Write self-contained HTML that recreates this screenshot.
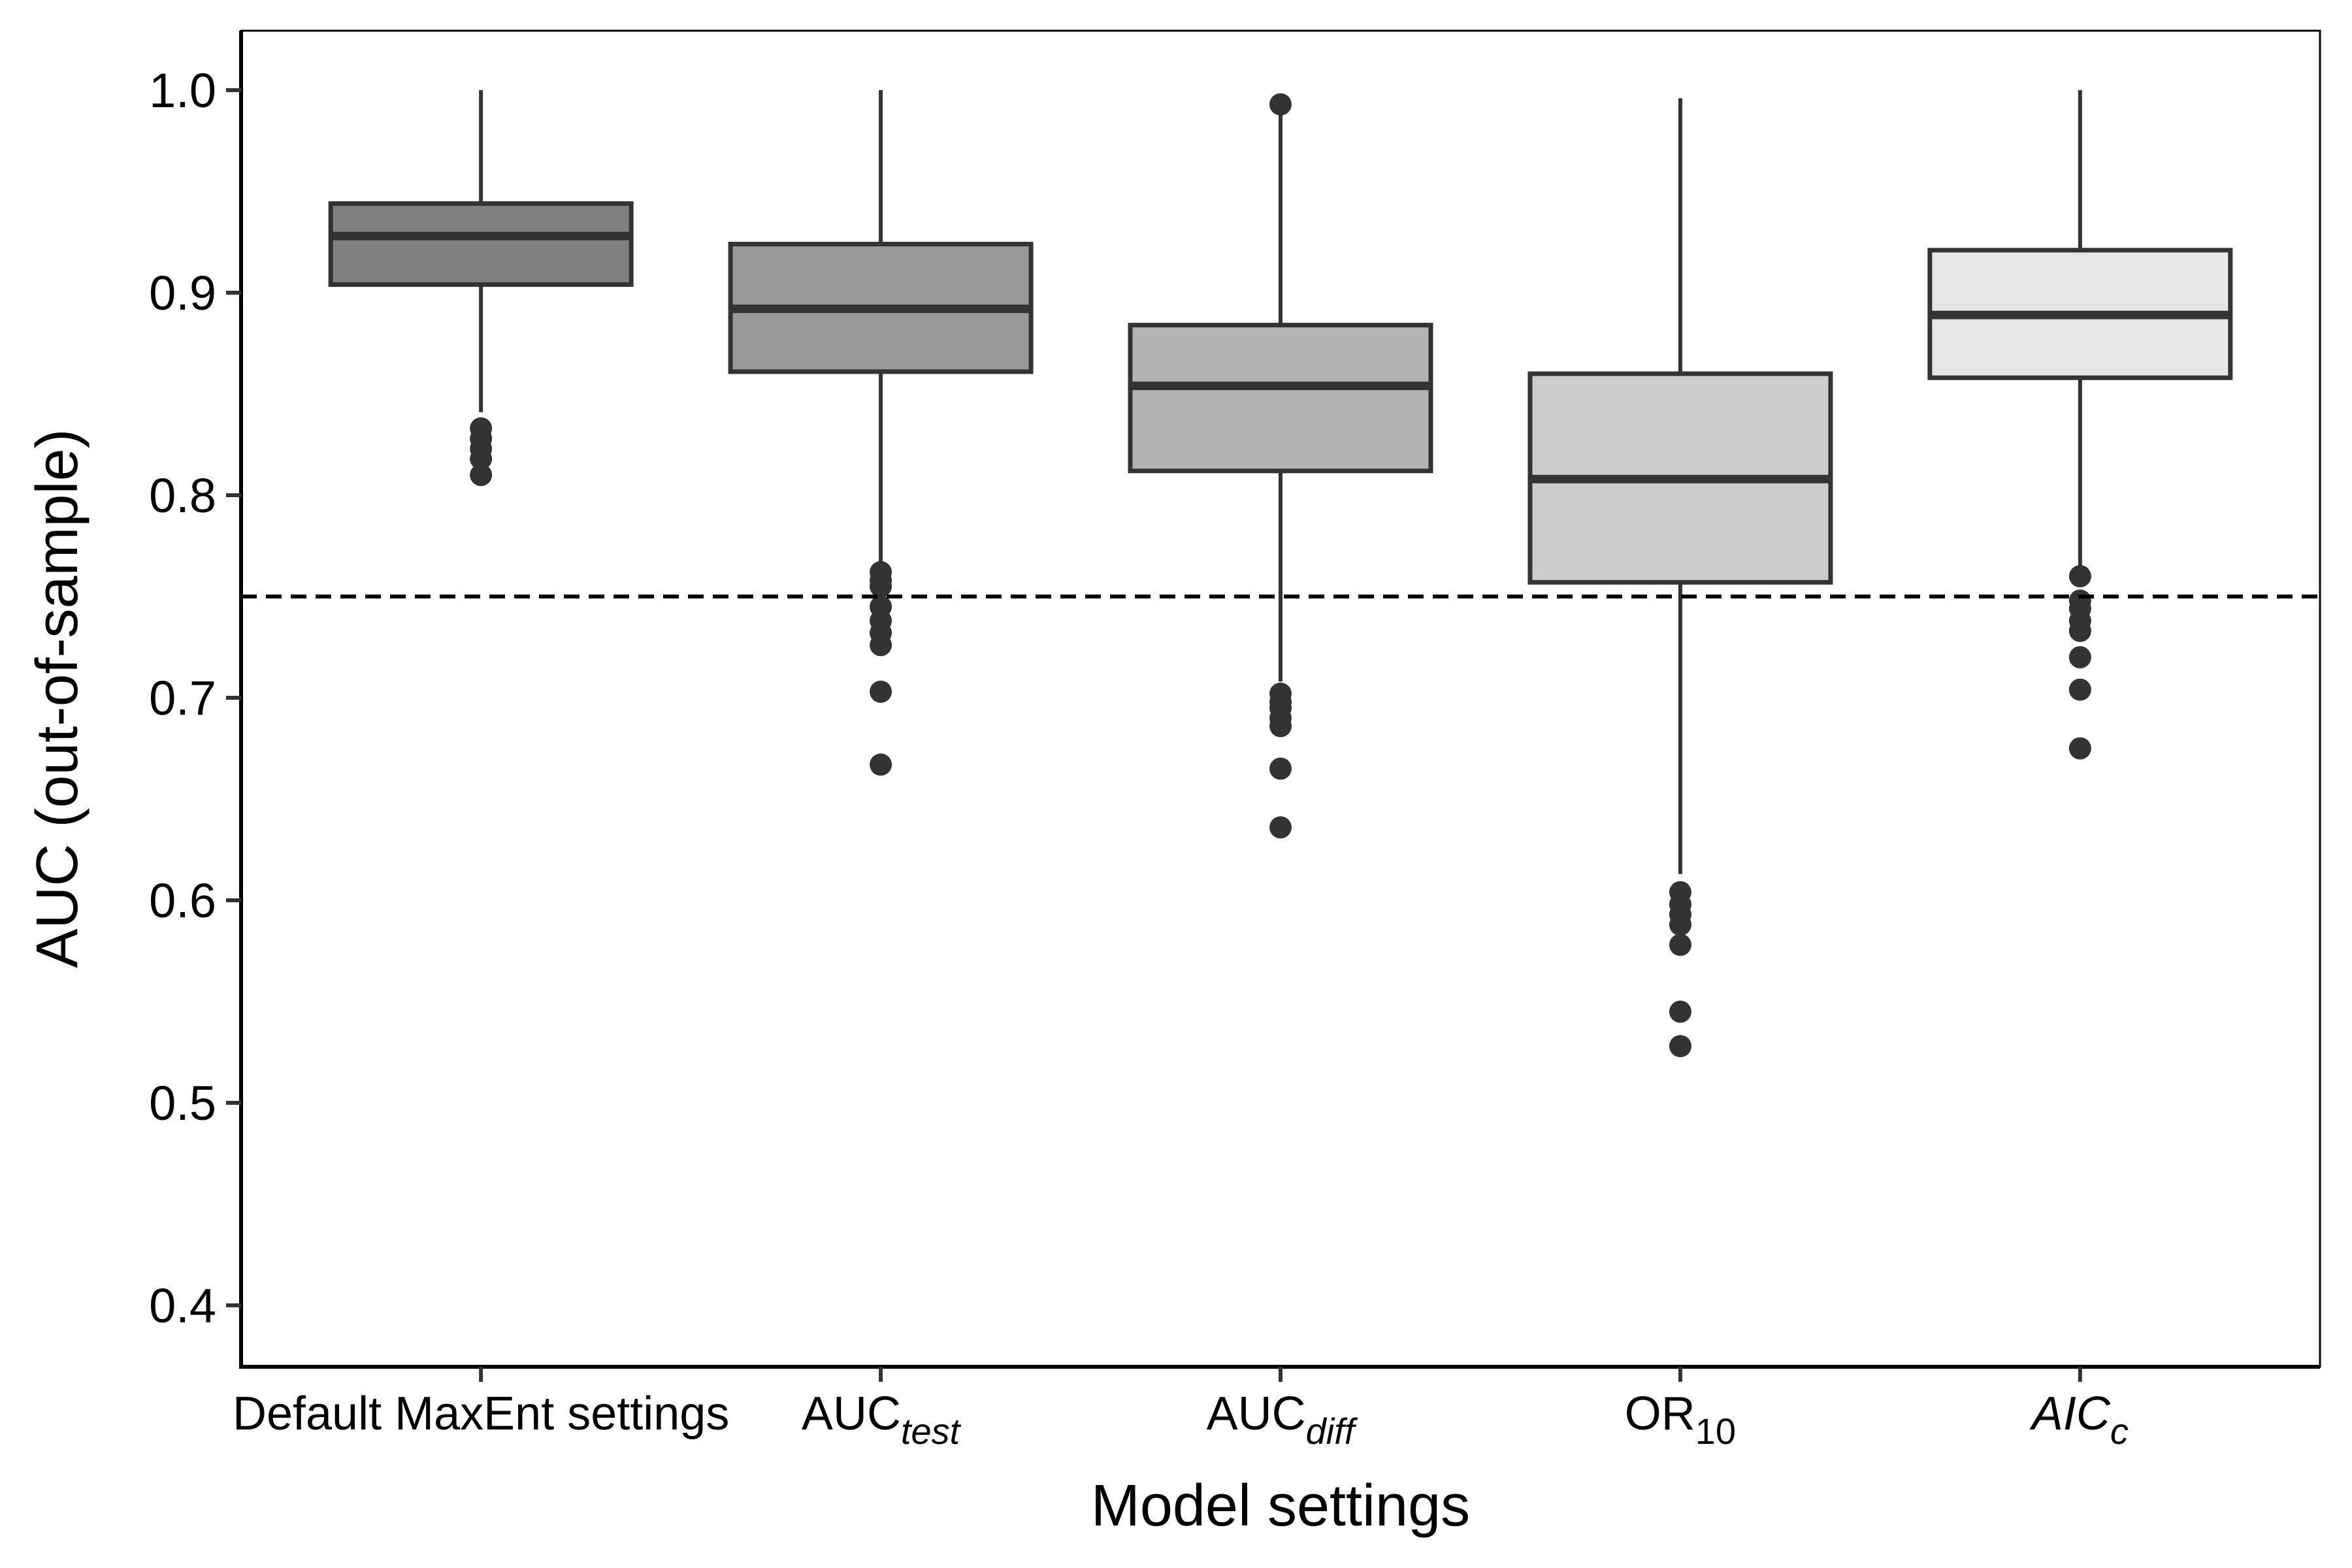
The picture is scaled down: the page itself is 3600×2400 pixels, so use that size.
<!DOCTYPE html>
<html><head><meta charset="utf-8"><style>
body{margin:0;background:#fff}
svg{display:block;font-family:"Liberation Sans",sans-serif}
</style></head><body>
<svg id="chart" width="3600" height="2400" viewBox="0 0 3600 2400" xmlns="http://www.w3.org/2000/svg">
<g id="plot"></g>
<text x="1960" y="2335" font-size="90" text-anchor="middle">Model settings</text>
<text transform="translate(118,1069) rotate(-90)" font-size="90" text-anchor="middle">AUC (out-of-sample)</text>
</svg>
<script>
const categories=["Default MaxEnt settings","AUCtest","AUCdiff","OR10","AICc"];
const q1=[0.904,0.861,0.812,0.757,0.858];
const med=[0.928,0.892,0.854,0.808,0.889];
const q3=[0.944,0.924,0.884,0.860,0.921];
const whiskLo=[0.841,0.765,0.708,0.613,0.765];
const whiskHi=[1.0,1.0,0.988,0.996,1.0];
const outliers=[[0.833,0.828,0.823,0.818,0.810],[0.762,0.758,0.755,0.745,0.738,0.732,0.726,0.703,0.667],[0.993,0.702,0.698,0.695,0.690,0.686,0.665,0.636],[0.604,0.598,0.593,0.588,0.578,0.545,0.528],[0.760,0.748,0.744,0.738,0.733,0.720,0.704,0.675]];
const fills=["#808080","#999999","#b3b3b3","#cccccc","#e6e6e6"];
const yTicks=[0.4,0.5,0.6,0.7,0.8,0.9,1.0];
const yTickLabels=["0.4","0.5","0.6","0.7","0.8","0.9","1.0"];
const refLine=0.75;

const NS="http://www.w3.org/2000/svg";
const L=369,R=3551,T=47,B=2092;
const y=v=>138+(1.0-v)*3100;
const step=(R-L)/5.2;
const x=i=>L+(i+0.6)*step;
const hw=230;
const g=document.getElementById('plot');
function mk(tag,a){const e=document.createElementNS(NS,tag);for(const k in a)e.setAttribute(k,a[k]);g.appendChild(e);return e;}

for(let i=0;i<categories.length;i++){
  const cx=x(i);
  let e=mk('line',{x1:cx,x2:cx,y1:y(whiskHi[i]),y2:y(q3[i]),stroke:'#333',"stroke-width":6});
  
  
  e=mk('line',{x1:cx,x2:cx,y1:y(q1[i]),y2:y(whiskLo[i]),stroke:'#333',"stroke-width":6});
  
  
  e=mk('rect',{x:cx-hw,y:y(q3[i]),width:2*hw,height:y(q1[i])-y(q3[i]),fill:fills[i],stroke:'#333',"stroke-width":7});
  
  
  e=mk('line',{x1:cx-hw,x2:cx+hw,y1:y(med[i]),y2:y(med[i]),stroke:'#333',"stroke-width":13});
  
  
  for(const o of outliers[i]){
    e=mk('circle',{cx:cx,cy:y(o),r:17,fill:'#333'});
    
    
  }
}
let d=mk('line',{x1:L,x2:R,y1:y(refLine),y2:y(refLine),stroke:'#000',"stroke-width":6,"stroke-dasharray":"24 14"});


let pb=mk('rect',{x:L,y:T,width:R-L,height:B-T,fill:'none',stroke:'#000',"stroke-width":3});


let ax=mk('line',{x1:L,x2:L,y1:T,y2:B+3,stroke:'#000',"stroke-width":6});


ax=mk('line',{x1:L-3,x2:R,y1:B,y2:B,stroke:'#000',"stroke-width":6});


for(let k=0;k<yTicks.length;k++){
  const yy=y(yTicks[k]);
  let t=mk('line',{x1:L-23,x2:L,y1:yy,y2:yy,stroke:'#333',"stroke-width":6});
  
  
  t=mk('text',{x:L-38,y:yy+26,"font-size":74,"text-anchor":"end",fill:'#000'});
  t.textContent=yTickLabels[k];
  
  
}
const mains=["Default MaxEnt settings","AUC","AUC","OR","AIC"];
const subs=["","test","diff","10","c"];
const mainItal=[false,false,false,false,true];
const subItal=[false,true,true,false,true];
for(let i=0;i<categories.length;i++){
  const cx=x(i);
  let t=mk('line',{x1:cx,x2:cx,y1:B,y2:B+23,stroke:'#333',"stroke-width":6});
  
  
  t=mk('text',{x:cx,y:2188,"font-size":72,"text-anchor":"middle",fill:'#000'});
  
  
  const m=document.createElementNS(NS,'tspan');m.textContent=mains[i];
  if(mainItal[i])m.setAttribute('font-style','italic');
  t.appendChild(m);
  if(subs[i]){const s=document.createElementNS(NS,'tspan');s.textContent=subs[i];s.setAttribute('font-size','56');s.setAttribute('dy','22');if(subItal[i])s.setAttribute('font-style','italic');t.appendChild(s);}
}
</script>
</body></html>
